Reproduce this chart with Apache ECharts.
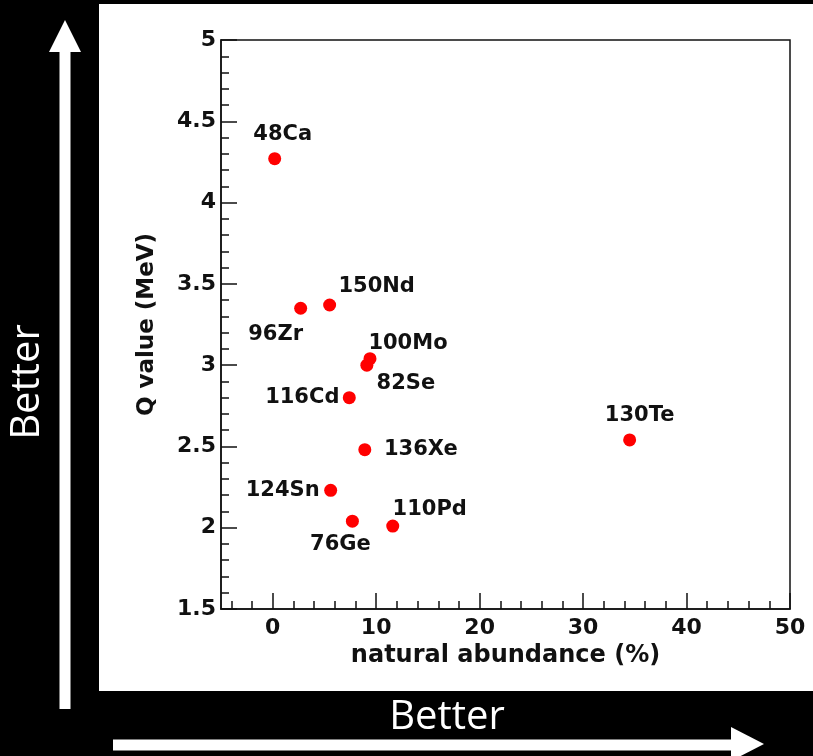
<!DOCTYPE html>
<html>
<head>
<meta charset="utf-8">
<script src="https://cdn.jsdelivr.net/npm/echarts@6/dist/echarts.min.js"></script>
<style>
html,body{margin:0;padding:0;background:#000;}
#chart{width:813px;height:756px;}
</style>
</head>
<body>
<div id="chart"></div>
<script>
// ---- data ----
const isotopes = ['48Ca','96Zr','150Nd','100Mo','82Se','116Cd','136Xe','124Sn','76Ge','110Pd','130Te'];
const abundance = [0.19, 2.7, 5.5, 9.4, 9.1, 7.4, 8.9, 5.6, 7.7, 11.6, 34.5];
const qValue = [4.27, 3.35, 3.37, 3.04, 3.00, 2.80, 2.48, 2.23, 2.04, 2.01, 2.54];
const xMajorTicks = [0, 10, 20, 30, 40, 50];
const xMinorTicks = [-4, -2, 2, 4, 6, 8, 12, 14, 16, 18, 22, 24, 26, 28, 32, 34, 36, 38, 42, 44, 46, 48];
const xTitle = 'natural abundance (%)';
const yTitle = 'Q value (MeV)';
const arrowText = 'Better';

// ---- label layout (style only) ----
const labelOffset = {
  '48Ca': [8, -24], '96Zr': [-25, 26], '150Nd': [47, -18], '100Mo': [38, -15],
  '82Se': [39, 18], '116Cd': [-47, 0], '136Xe': [56, 0], '124Sn': [-48, 0],
  '76Ge': [-12, 23], '110Pd': [37, -17], '130Te': [10, -24]
};

const chart = echarts.init(document.getElementById('chart'));
const FONT = 'DejaVu Sans';
const dark = '#111';

const points = isotopes.map((n, i) => ({
  name: n,
  value: [abundance[i], qValue[i]],
  label: { offset: labelOffset[n] }
}));

chart.setOption({
  backgroundColor: '#000',
  animation: false,
  grid: {
    left: 221, right: 23, top: 40, bottom: 147,
    show: true, borderColor: dark, borderWidth: 1.5, backgroundColor: '#fff'
  },
  xAxis: [{
    type: 'value', min: -5, max: 50,
    axisLine: { show: true, onZero: false, lineStyle: { color: dark, width: 1.5 } },
    axisTick: { show: true, inside: true, length: 16, customValues: xMajorTicks, lineStyle: { color: dark, width: 1.5 } },
    axisLabel: { customValues: xMajorTicks, margin: 8, fontFamily: FONT, fontWeight: 'bold', fontSize: 22, color: dark },
    splitLine: { show: false },
    name: xTitle, nameLocation: 'middle', nameGap: 35,
    nameTextStyle: { fontFamily: FONT, fontWeight: 'bold', fontSize: 24, color: dark }
  }, {
    type: 'value', min: -5, max: 50, position: 'bottom', gridIndex: 0,
    axisLine: { show: false, onZero: false },
    axisTick: { show: true, inside: true, length: 8, customValues: xMinorTicks, lineStyle: { color: dark, width: 1.5 } },
    axisLabel: { show: false },
    splitLine: { show: false }
  }],
  yAxis: {
    type: 'value', min: 1.5, max: 5, interval: 0.5,
    axisLine: { show: true, onZero: false, lineStyle: { color: dark, width: 1.5 } },
    axisTick: { show: true, inside: true, length: 16, lineStyle: { color: dark, width: 1.5 } },
    minorTick: { show: true, splitNumber: 5, length: 8, lineStyle: { color: dark, width: 1.5 } },
    axisLabel: { margin: 5, fontFamily: FONT, fontWeight: 'bold', fontSize: 22, color: dark },
    splitLine: { show: false },
    name: yTitle, nameLocation: 'middle', nameGap: 62, nameRotate: 90,
    nameTextStyle: { fontFamily: FONT, fontWeight: 'bold', fontSize: 23, color: dark }
  },
  graphic: [
    { type: 'rect', z: -100, shape: { x: 99, y: 4, width: 714, height: 687 }, style: { fill: '#fff' } },
    // vertical arrow
    { type: 'rect', shape: { x: 59.5, y: 50, width: 11, height: 659 }, style: { fill: '#fff' } },
    { type: 'polygon', shape: { points: [[65, 20], [49, 52], [81, 52]] }, style: { fill: '#fff' } },
    { type: 'text', x: 28, y: 382, rotation: Math.PI / 2,
      style: { text: arrowText, fill: '#fff', font: '40px "Open Sans"', textAlign: 'center', textVerticalAlign: 'middle' } },
    // horizontal arrow
    { type: 'rect', shape: { x: 113, y: 739.5, width: 620, height: 11 }, style: { fill: '#fff' } },
    { type: 'polygon', shape: { points: [[731, 727], [764, 744], [731, 761]] }, style: { fill: '#fff' } },
    { type: 'text', x: 447, y: 718,
      style: { text: arrowText, fill: '#fff', font: '40px "Open Sans"', textAlign: 'center', textVerticalAlign: 'middle' } }
  ],
  series: [{
    type: 'scatter',
    xAxisIndex: 0,
    data: points,
    symbol: 'circle',
    symbolSize: 13,
    itemStyle: { color: '#ff0000', opacity: 1 },
    label: {
      show: true, position: 'inside', formatter: '{b}',
      align: 'center', verticalAlign: 'middle',
      fontFamily: FONT, fontWeight: 'bold', fontSize: 21, color: dark, opacity: 1
    }
  }]
});
</script>
</body>
</html>
